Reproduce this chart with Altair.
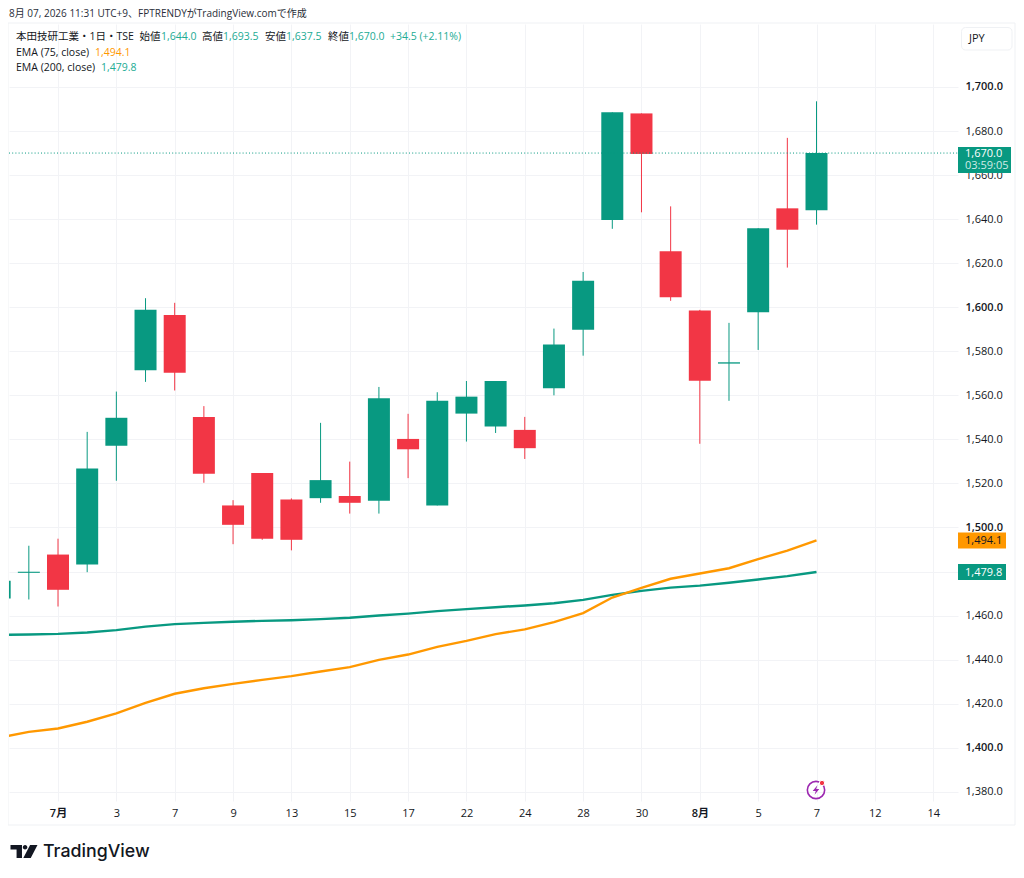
import altair as alt
import pandas as pd

dates = ["6/29","6/30","7/1","7/2","7/3","7/6","7/7","7/8","7/9","7/10","7/13","7/14","7/15","7/16","7/17",
         "7/21","7/22","7/23","7/24","7/27","7/28","7/29","7/30","7/31","8/3","8/4","8/5","8/6","8/7"]
opens = [1467.8,1479.4,1487.7,1483.2,1537.1,1571.4,1596.5,1550.2,1510.0,1524.7,1512.7,1513.3,1514.3,1512.1,1540.2,
         1510.0,1551.7,1545.8,1544.3,1563.2,1589.8,1639.6,1688.0,1625.4,1598.5,1574.4,1597.7,1644.9,1644.0]
highs = [1476.0,1491.7,1494.9,1543.4,1561.7,1604.1,1602.0,1555.1,1512.4,1524.7,1513.2,1547.5,1529.9,1563.8,1551.6,
         1561.4,1566.5,1566.5,1550.2,1590.3,1616.0,1688.5,1688.0,1645.8,1598.8,1592.9,1635.9,1676.9,1693.5]
lows = [1467.8,1467.3,1464.1,1479.7,1521.2,1566.1,1562.2,1520.3,1492.4,1494.4,1489.6,1511.2,1506.3,1506.3,1522.4,
        1510.0,1539.0,1542.9,1531.1,1560.0,1578.0,1635.6,1643.1,1602.9,1538.0,1557.5,1580.6,1618.0,1637.5]
closes = [1475.8,1479.9,1471.7,1526.8,1549.8,1598.8,1570.2,1524.4,1501.2,1494.9,1494.4,1521.5,1511.2,1558.7,1535.5,
          1557.5,1559.4,1566.5,1536.0,1583.1,1612.0,1688.5,1669.6,1604.5,1566.6,1575.0,1635.9,1635.2,1670.0]
ema75 = [1404.6,1407.2,1408.7,1411.8,1415.6,1420.4,1424.5,1427.0,1429.0,1430.8,1432.5,1434.6,1436.6,1439.9,1442.3,
         1445.8,1448.5,1451.6,1453.7,1457.0,1461.1,1468.2,1472.6,1476.7,1479.1,1481.5,1485.6,1489.5,1494.1]
ema200 = [1451.2,1451.4,1451.7,1452.3,1453.4,1455.0,1456.1,1456.7,1457.2,1457.6,1457.9,1458.4,1459.0,1460.0,1460.9,
          1462.0,1462.9,1463.8,1464.6,1465.6,1467.1,1469.4,1471.2,1472.7,1473.6,1474.9,1476.4,1477.9,1479.8]
x_tick_labels = ["7月","3","7","9","13","15","17","22","24","28","30","8月","5","7","12","14"]
y_ticks = [1380,1400,1420,1440,1460,1480,1500,1520,1540,1560,1580,1600,1620,1640,1660,1680,1700]
last_close = [1670.0]

GREEN, RED, ORANGE = "#089981", "#F23645", "#FF9800"
INK = "#131722"
GRID = "#F2F3F6"
FONT = "Open Sans, Noto Sans CJK JP"

df = pd.DataFrame({"idx": range(len(dates)), "date": dates, "open": opens, "high": highs, "low": lows, "close": closes,
                   "ema75": ema75, "ema200": ema200})
df["dir"] = ["up" if c >= o else "down" for o, c in zip(opens, closes)]

x_scale = alt.Scale(domain=[0.32, 32.85], nice=False, zero=False, padding=0)
y_scale = alt.Scale(domain=[1375.8, 1728.6], nice=False, zero=False)
color = alt.Color("dir:N", scale=alt.Scale(domain=["up", "down"], range=[GREEN, RED]), legend=None)

labels_js = "[" + ",".join("'%s'" % t for t in x_tick_labels) + "]"
x_axis = alt.Axis(values=list(range(2, 34, 2)), labelExpr=labels_js + "[(datum.value-2)/2]", title=None, grid=True,
                  gridColor=GRID, gridWidth=1, ticks=False, domain=False, labelFont=FONT, labelFontSize=11,
                  labelColor=INK, labelPadding=6, labelFlush=False,
                  labelFontWeight=alt.expr("datum.value==2||datum.value==24?600:400"))
y_axis = alt.Axis(values=y_ticks, orient="right", format=",.1f", title=None, grid=True, gridColor=GRID, gridWidth=1,
                  ticks=False, domain=False, labelFont=FONT, labelFontSize=11, labelColor=INK, labelPadding=7,
                  labelFontWeight=alt.expr("datum.value%100==0?600:400"))

base = alt.Chart(df)
X = alt.X("idx:Q", scale=x_scale, axis=x_axis)
Y = alt.Y("low:Q", scale=y_scale, axis=y_axis)

wicks = base.mark_rule(strokeWidth=1, clip=True).encode(x=X, y=Y, y2="high:Q", color=color)
bodies = base.mark_bar(size=22, clip=True).encode(
    x=alt.X("idx:Q", scale=x_scale),
    y=alt.Y("open:Q", scale=y_scale), y2="close:Q", color=color)
line75 = base.mark_line(color=ORANGE, strokeWidth=2.4, clip=True).encode(
    x=alt.X("idx:Q", scale=x_scale), y=alt.Y("ema75:Q", scale=y_scale))
line200 = base.mark_line(color=GREEN, strokeWidth=2.4, clip=True).encode(
    x=alt.X("idx:Q", scale=x_scale), y=alt.Y("ema200:Q", scale=y_scale))
price_line = alt.Chart(pd.DataFrame({"p": last_close})).mark_rule(
    color=GREEN, strokeWidth=1, strokeDash=[1, 2.2]).encode(
    y=alt.Y("p:Q", scale=y_scale), x=alt.value(0), x2=alt.value(949))

one = alt.Data(values=[{"a": 1}])


def text(t, x, y, color=INK, size=10.5, weight=400, font=FONT, align="left"):
    return alt.Chart(one).mark_text(text=t, font=font, fontSize=size, fontWeight=weight, color=color,
                                    align=align, baseline="middle").encode(x=alt.value(x), y=alt.value(y))


def box(x, x2, y, y2, fill, stroke=None, radius=0):
    kw = {"fill": fill} if fill else {"fillOpacity": 0}
    if stroke:
        kw.update(stroke=stroke, strokeWidth=1)
    return alt.Chart(one).mark_rect(cornerRadius=radius, **kw).encode(
        x=alt.value(x), x2=alt.value(x2), y=alt.value(y), y2=alt.value(y2))


def glyph(path, x, y, size, **kw):
    return alt.Chart(one).mark_point(shape=path, size=size, **kw).encode(x=alt.value(x), y=alt.value(y))


def price_tag(value, x2, fill):
    return alt.Chart(pd.DataFrame({"p": [value]})).mark_rule(color=fill, strokeWidth=16).encode(
        y=alt.Y("p:Q", scale=y_scale), x=alt.value(949), x2=alt.value(x2))


frame = box(-1, 1006, -1, 801, None, stroke="#EFF1F4")

TEAL = "#22AB94"
R1, R2, R3 = 13, 29, 44
legend_layers = [
    text("8月 07, 2026 11:31 UTC+9、FPTRENDYがTradingView.comで作成", 0, -9.8, color="#2A2E39", size=10),
    text("本田技研工業・1日・TSE", 7, R1),
    text("始値", 130.5, R1), text("1,644.0", 152, R1, TEAL),
    text("高値", 193, R1), text("1,693.5", 214, R1, TEAL),
    text("安値", 256, R1), text("1,637.5", 277, R1, TEAL),
    text("終値", 319, R1), text("1,670.0", 340, R1, TEAL),
    text("+34.5 (+2.11%)", 381, R1, TEAL),
    text("EMA (75, close)", 7, R2), text("1,494.1", 86, R2, ORANGE),
    text("EMA (200, close)", 7, R3), text("1,479.8", 92, R3, TEAL),
]

tag_layers = [
    box(949, 1002, 123, 149, GREEN),
    text("1,670.0", 956, 129.5, "#FFFFFF", size=11),
    text("03:59:05", 956, 141.5, "#CFEBE6", size=11),
    price_tag(1494.1, 997, ORANGE),
    text("1,494.1", 956, 517, INK, size=11),
    price_tag(1479.8, 997, GREEN),
    text("1,479.8", 956, 548.5, "#FFFFFF", size=11),
    box(952.5, 1003, 3.5, 26, "#FFFFFF", stroke="#EFF1F4", radius=4),
    text("JPY", 960, 15, size=11),
]

icon_layers = [
    glyph("circle", 807, 766, 300, filled=False, stroke="#9C27B0", strokeWidth=1.6, opacity=1),
    glyph("M0.3 -1 L-0.7 0.2 H-0.05 L-0.3 1 L0.7 -0.2 H0.05 Z", 807, 766, 90, filled=True, fill="#9C27B0", strokeWidth=0, opacity=1),
    glyph("circle", 813, 759, 28, filled=True, fill="#F23645", stroke="#FFFFFF", strokeWidth=1, opacity=1),
]

logo_path = ("M-1 -0.48 H-0.15 V0.48 H-0.55 V-0.15 H-1 Z "
             "M-0.09 -0.32 A0.17 0.17 0 1 0 0.25 -0.32 A0.17 0.17 0 1 0 -0.09 -0.32 Z "
             "M0.45 -0.48 H1 L0.5 0.48 H-0.05 Z")
logo_layers = [
    glyph(logo_path, 15, 827.5, 729, filled=True, fill="#131722", strokeWidth=0, opacity=1),
    text("TradingView", 34, 827.5, "#131722", size=17.8, weight=500, font="Inter"),
]

chart = alt.layer(
    wicks, bodies, line200, line75, price_line, frame,
    *legend_layers, *tag_layers, *icon_layers, *logo_layers
).properties(
    width=949, height=777,
    autosize=alt.AutoSizeParams(type="none"),
    padding={"left": 1, "top": 16, "right": 58, "bottom": 64},
    background="#FFFFFF",
).configure_view(stroke=None)

chart.save("out.html", embed_options={"renderer": "svg", "actions": False})
